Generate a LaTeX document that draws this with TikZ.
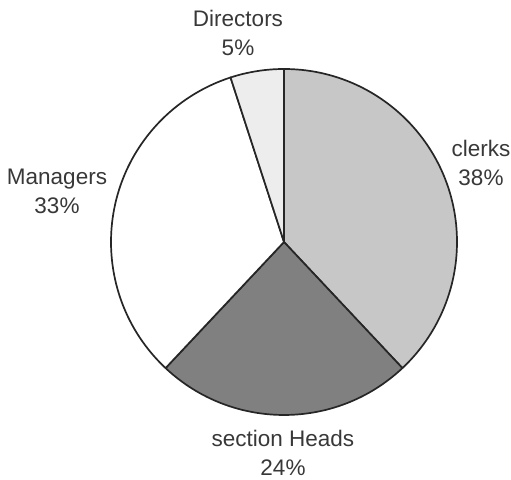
\documentclass[tikz,border=0pt]{standalone}
\usepackage{fontspec}
\setmainfont{Liberation Sans}
\definecolor{clerkfill}{gray}{0.78}
\definecolor{headfill}{gray}{0.5}
\definecolor{dirfill}{gray}{0.93}
\definecolor{txt}{gray}{0.22}
\begin{document}
\begin{tikzpicture}[x=1pt,y=1pt,
  slice/.style={draw=black!85, line width=1.7pt, line join=round},
  lbl/.style={text=txt, align=center, font=\fontsize{22.5}{29}\selectfont, inner sep=0pt}]
\useasboundingbox (0,0) rectangle (511,479);
\coordinate (c) at (284,237);
\def\R{173}
% clerks 38%
\filldraw[slice, fill=clerkfill] (c) -- ++(90:\R) arc[start angle=90, end angle=-46.8, radius=\R] -- cycle;
% section heads 24%
\filldraw[slice, fill=headfill] (c) -- ++(-46.8:\R) arc[start angle=-46.8, end angle=-133.2, radius=\R] -- cycle;
% managers 33%
\filldraw[slice, fill=white] (c) -- ++(-133.2:\R) arc[start angle=-133.2, end angle=-252, radius=\R] -- cycle;
% directors 5%
\filldraw[slice, fill=dirfill] (c) -- ++(108:\R) arc[start angle=108, end angle=90, radius=\R] -- cycle;
% labels
\node[lbl] (ldir) at (238,446) {Directors\\5\%};
\node[lbl] (lclerk) at (481,316) {clerks\\38\%};
\node[lbl] (lman) at (57,288) {Managers\\33\%};
\node[lbl] (lhead) at (283,26) {section Heads\\24\%};
\end{tikzpicture}
\end{document}
